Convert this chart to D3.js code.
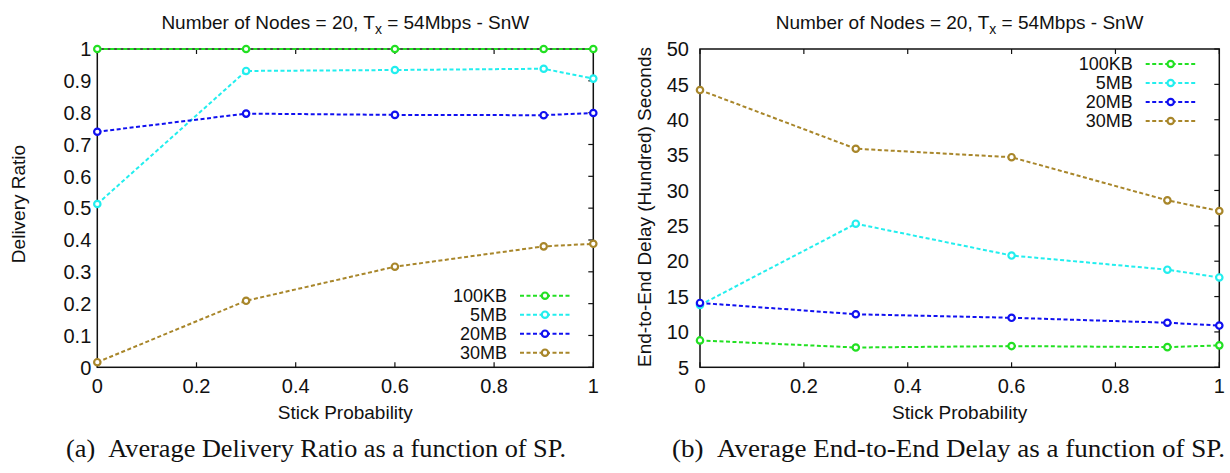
<!DOCTYPE html>
<html>
<head>
<meta charset="utf-8">
<script src="https://cdn.jsdelivr.net/npm/d3@7"></script>
<style>
  body { margin: 0; background: #fff; }
  text { font-family: "Liberation Sans", Arial, sans-serif; fill: #111; }
  text.caption { font-family: "Liberation Serif", "Times New Roman", Times, serif; }
</style>
</head>
<body>
<div id="app"></div>
<script>
// Data
const STICK_PROB = [0, 0.3, 0.6, 0.9, 1];
const SERIES = ["100KB", "5MB", "20MB", "30MB"];
const COLORS = ["#22e022", "#22eeee", "#1010f0", "#a8862a"];

// (a) delivery ratio
const RATIO_100KB = [1, 1, 1, 1, 1];
const RATIO_5MB = [0.513, 0.931, 0.934, 0.938, 0.907];
const RATIO_20MB = [0.74, 0.797, 0.793, 0.792, 0.799];
const RATIO_30MB = [0.016, 0.209, 0.316, 0.38, 0.388];

// (b) end-to-end delay (hundred seconds)
const DELAY_100KB = [8.8, 7.8, 8.0, 7.85, 8.1];
const DELAY_5MB = [13.8, 25.3, 20.8, 18.8, 17.7];
const DELAY_20MB = [14.1, 12.5, 12.0, 11.3, 10.9];
const DELAY_30MB = [44.2, 35.9, 34.7, 28.6, 27.1];

const X_TICKS = [0, 0.2, 0.4, 0.6, 0.8, 1];
const RATIO_TICKS = d3.range(0, 1.01, 0.1).map((d) => +d.toFixed(1));
const DELAY_TICKS = d3.range(5, 51, 5);

const TITLE = "Number of Nodes = 20, T";
const TITLE_SUB = "x";
const TITLE_END = " = 54Mbps - SnW";

const WIDTH = 1230;
const HEIGHT = 473;
const FONT = 19;
const TICK_FONT = 20;
const LEGEND_FONT = 18;
const TICK_LEN = 5;

const svg = d3
  .select("#app")
  .append("svg")
  .attr("width", WIDTH)
  .attr("height", HEIGHT);

function drawPanel(opts) {
  const g = svg.append("g");
  const x = d3.scaleLinear().domain([0, 1]).range([opts.left, opts.right]);
  const y = d3.scaleLinear().domain(opts.yDomain).range([opts.bottom, opts.top]);

  // frame
  g.append("rect")
    .attr("x", opts.left)
    .attr("y", opts.top)
    .attr("width", opts.right - opts.left)
    .attr("height", opts.bottom - opts.top)
    .attr("fill", "none")
    .attr("stroke", "#111")
    .attr("stroke-width", 1.5);

  // inward ticks: bottom, top, right
  const ticks = g.append("g").attr("stroke", "#111").attr("stroke-width", 1.2);
  X_TICKS.forEach((t) => {
    ticks.append("line")
      .attr("x1", x(t)).attr("x2", x(t))
      .attr("y1", opts.bottom).attr("y2", opts.bottom - TICK_LEN);
    ticks.append("line")
      .attr("x1", x(t)).attr("x2", x(t))
      .attr("y1", opts.top).attr("y2", opts.top + TICK_LEN);
  });
  opts.yTicks.forEach((t) => {
    ticks.append("line")
      .attr("x1", opts.right).attr("x2", opts.right - TICK_LEN)
      .attr("y1", y(t)).attr("y2", y(t));
  });

  // tick labels
  g.selectAll(".xl")
    .data(X_TICKS)
    .join("text")
    .attr("x", (d) => x(d))
    .attr("y", opts.bottom + 26)
    .attr("text-anchor", "middle")
    .attr("font-size", TICK_FONT)
    .text((d) => d);
  g.selectAll(".yl")
    .data(opts.yTicks)
    .join("text")
    .attr("x", opts.left - opts.yLabelGap)
    .attr("y", (d) => y(d))
    .attr("dy", "0.36em")
    .attr("text-anchor", "end")
    .attr("font-size", TICK_FONT)
    .text((d) => d);

  // axis titles
  g.append("text")
    .attr("x", (opts.left + opts.right) / 2)
    .attr("y", opts.bottom + 52)
    .attr("text-anchor", "middle")
    .attr("font-size", FONT)
    .text("Stick Probability");
  g.append("text")
    .attr("transform", `translate(${opts.yTitleX}, ${opts.yTitleY}) rotate(-90)`)
    .attr("text-anchor", "middle")
    .attr("font-size", FONT)
    .text(opts.yTitle);

  // plot title
  const title = g.append("text")
    .attr("x", (opts.left + opts.right) / 2)
    .attr("y", 29)
    .attr("text-anchor", "middle")
    .attr("font-size", FONT);
  title.append("tspan").text(TITLE);
  title.append("tspan").attr("font-size", 14).attr("dy", 5).text(TITLE_SUB);
  title.append("tspan").attr("dy", -5).text(TITLE_END);

  // series
  const line = d3.line().x((d) => x(d[0])).y((d) => y(d[1]));
  opts.series.forEach((vals, i) => {
    const pts = STICK_PROB.map((p, j) => [p, vals[j]]);
    g.append("path")
      .attr("d", line(pts))
      .attr("fill", "none")
      .attr("stroke", COLORS[i])
      .attr("stroke-width", 2)
      .attr("stroke-dasharray", "4,2.5");
    g.selectAll(null)
      .data(pts)
      .join("circle")
      .attr("cx", (d) => x(d[0]))
      .attr("cy", (d) => y(d[1]))
      .attr("r", 3.2)
      .attr("fill", "#fff")
      .attr("stroke", COLORS[i])
      .attr("stroke-width", 2.2);
  });

  // legend
  const lg = g.append("g");
  SERIES.forEach((name, i) => {
    const ly = opts.legendY + i * 19;
    lg.append("text")
      .attr("x", opts.legendX)
      .attr("y", ly)
      .attr("dy", "0.36em")
      .attr("text-anchor", "end")
      .attr("font-size", LEGEND_FONT)
      .text(name);
    lg.append("line")
      .attr("x1", opts.legendX + 13)
      .attr("x2", opts.legendX + 63)
      .attr("y1", ly)
      .attr("y2", ly)
      .attr("stroke", COLORS[i])
      .attr("stroke-width", 2)
      .attr("stroke-dasharray", "4,2.5");
    lg.append("circle")
      .attr("cx", opts.legendX + 38)
      .attr("cy", ly)
      .attr("r", 3.2)
      .attr("fill", "#fff")
      .attr("stroke", COLORS[i])
      .attr("stroke-width", 2.2);
  });

  // caption
  svg.append("text")
    .attr("class", "caption")
    .attr("x", opts.captionX0)
    .attr("y", 457)
    .attr("font-size", 25)
    .attr("textLength", opts.captionX1 - opts.captionX0)
    .attr("lengthAdjust", "spacingAndGlyphs")
    .text(opts.caption);
}

drawPanel({
  left: 97.3, right: 593.3, top: 49, bottom: 367.3,
  yDomain: [0, 1],
  yTicks: RATIO_TICKS,
  yLabelGap: 6,
  yTitle: "Delivery Ratio",
  yTitleX: 25, yTitleY: 204,
  series: [RATIO_100KB, RATIO_5MB, RATIO_20MB, RATIO_30MB],
  legendX: 507, legendY: 295.7,
  caption: "(a)\u00a0\u00a0Average Delivery Ratio as a function of SP.",
  captionX0: 66, captionX1: 566
});

drawPanel({
  left: 700, right: 1219.3, top: 49, bottom: 367.3,
  yDomain: [5, 50],
  yTicks: DELAY_TICKS,
  yLabelGap: 11,
  yTitle: "End-to-End Delay (Hundred) Seconds",
  yTitleX: 651, yTitleY: 207,
  series: [DELAY_100KB, DELAY_5MB, DELAY_20MB, DELAY_30MB],
  legendX: 1132.7, legendY: 64,
  caption: "(b)\u00a0\u00a0Average End-to-End Delay as a function of SP.",
  captionX0: 672, captionX1: 1225
});
</script>
</body>
</html>
